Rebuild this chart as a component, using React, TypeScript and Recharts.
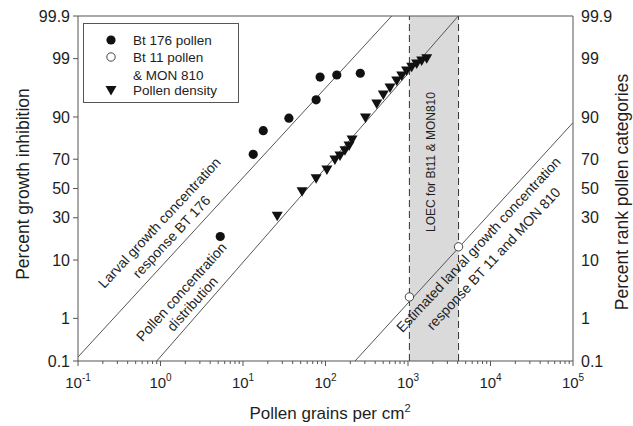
import React from "react";
import {
  ComposedChart,
  XAxis,
  YAxis,
  Scatter,
  ReferenceLine,
  ReferenceArea,
  Legend,
} from "recharts";

// x axis: log decades and minor steps
const X_DECADES = [0.1, 1, 10, 100, 1000, 10000, 100000];
const X_EXPONENTS = ["-1", "0", "1", "2", "3", "4", "5"];
const X_MINOR_STEPS = [2, 3, 4, 5, 6, 7, 8, 9];

// y axis: probability (probit) scale, in percent
const Y_TICKS = [0.1, 1, 10, 30, 50, 70, 90, 99, 99.9];
const Y_TICK_LABELS = ["0.1", "1", "10", "30", "50", "70", "90", "99", "99.9"];

// Bt 176 pollen (filled circles)
const BT176_X = [5.3, 13.3, 17.6, 36, 77, 86, 137, 264];
const BT176_Y = [19.5, 73, 85, 89.6, 94.4, 97.7, 97.9, 98.05];

// Bt 11 pollen & MON 810 (open circles)
const BT11_X = [1040, 4100];
const BT11_Y = [2.6, 14.8];

// Pollen density (down triangles)
const DENSITY_X = [
  26, 52, 77, 104, 130, 150, 172, 193, 210, 305, 418, 502, 605, 730, 839, 960,
  1109, 1274, 1465, 1686,
];
const DENSITY_Y = [
  31, 47.7, 57, 63, 69.5, 72, 75, 77.7, 80.8, 89.7, 93.5, 95.3, 96.4, 97.3,
  97.8, 98.24, 98.5, 98.72, 98.88, 98.99,
];

// fitted lines, [x, percent] end points
const LINE_BT176 = [
  [0.1, 0.127],
  [634, 99.9],
];
const LINE_POLLEN = [
  [0.9, 0.1],
  [4070, 99.9],
];
const LINE_BT11 = [
  [228, 0.1],
  [100000, 88.1],
];

// LOEC band
const LOEC_RANGE = [1040, 4100];

const FONT = "'Liberation Sans', Arial, sans-serif";
const AXIS = "#555";
const INK = "#1e1e1e";

// inverse normal cdf (Acklam), percent -> z
function probit(pct: number): number {
  const p = pct / 100;
  const a = [-39.69683028665376, 220.9460984245205, -275.9285104469687, 138.357751867269, -30.66479806614716, 2.506628277459239];
  const b = [-54.47609879822406, 161.5858368580409, -155.6989798598866, 66.80131188771972, -13.28068155288572];
  const c = [-0.007784894002430293, -0.3223964580411365, -2.400758277161838, -2.549732539343734, 4.374664141464968, 2.938163982698783];
  const d = [0.007784695709041462, 0.3224671290700398, 2.445134137142996, 3.754408661907416];
  const pl = 0.02425;
  if (p < pl) {
    const q = Math.sqrt(-2 * Math.log(p));
    return (((((c[0] * q + c[1]) * q + c[2]) * q + c[3]) * q + c[4]) * q + c[5]) /
      ((((d[0] * q + d[1]) * q + d[2]) * q + d[3]) * q + 1);
  }
  if (p > 1 - pl) {
    const q = Math.sqrt(-2 * Math.log(1 - p));
    return -(((((c[0] * q + c[1]) * q + c[2]) * q + c[3]) * q + c[4]) * q + c[5]) /
      ((((d[0] * q + d[1]) * q + d[2]) * q + d[3]) * q + 1);
  }
  const q = p - 0.5;
  const r = q * q;
  return ((((((a[0] * r + a[1]) * r + a[2]) * r + a[3]) * r + a[4]) * r + a[5]) * q) /
    (((((b[0] * r + b[1]) * r + b[2]) * r + b[3]) * r + b[4]) * r + 1);
}

const Y_MIN = probit(Y_TICKS[0]);
const Y_MAX = probit(Y_TICKS[Y_TICKS.length - 1]);
const yTickValues = Y_TICKS.map(probit);

const toPoints = (xs: number[], ys: number[]) =>
  xs.map((x, i) => ({ x, y: probit(ys[i]) }));
const toSegment = (pts: number[][]) =>
  pts.map(([x, p]) => ({ x, y: probit(p) }));

const bt176 = toPoints(BT176_X, BT176_Y);
const bt11 = toPoints(BT11_X, BT11_Y);
const density = toPoints(DENSITY_X, DENSITY_Y);

const xTicks: number[] = [];
X_DECADES.forEach((d, i) => {
  xTicks.push(d);
  if (i < X_DECADES.length - 1) X_MINOR_STEPS.forEach((m) => xTicks.push(d * m));
});

function LogTick(props: any) {
  const { x, y, payload } = props;
  const idx = X_DECADES.findIndex(
    (d) => Math.abs(Math.log10(d) - Math.log10(payload.value)) < 1e-6
  );
  const major = idx >= 0;
  return (
    <g>
      <line x1={x} x2={x} y1={y} y2={y + (major ? 5 : 3)} stroke={AXIS} />
      {major && (
        <text x={x} y={y + 27} textAnchor="middle" fontSize={15} fill={INK} fontFamily={FONT}>
          <tspan>10</tspan>
          <tspan dy={-7} fontSize={10}>{X_EXPONENTS[idx]}</tspan>
        </text>
      )}
    </g>
  );
}

const dotShape = (props: any) => (
  <circle cx={props.cx} cy={props.cy} r={4.6} fill="#111" />
);
const openShape = (props: any) => (
  <circle cx={props.cx} cy={props.cy} r={4.2} fill="#fff" stroke="#444" strokeWidth={1} />
);
const triShape = (props: any) => {
  const { cx, cy } = props;
  return (
    <path d={`M${cx - 5.5},${cy - 4.5}L${cx + 5.5},${cy - 4.5}L${cx},${cy + 5}Z`} fill="#111" />
  );
};

function LegendBox() {
  const t = { fontSize: 13.5, fill: INK, fontFamily: FONT };
  return (
    <svg width={156} height={80}>
      <rect x={0.5} y={0.5} width={155} height={79} fill="#fff" stroke={AXIS} />
      <circle cx={28} cy={17} r={4.6} fill="#111" />
      <text x={50} y={22} {...t}>Bt 176 pollen</text>
      <circle cx={28} cy={34} r={4.2} fill="#fff" stroke="#444" />
      <text x={50} y={39} {...t}>Bt 11 pollen</text>
      <text x={50} y={57} {...t}>&amp; MON 810</text>
      <path d="M22.5,63L33.5,63L28,72.5Z" fill="#111" />
      <text x={50} y={72} {...t}>Pollen density</text>
    </svg>
  );
}

function Note({ x, y, angle, size = 14, children }: any) {
  return (
    <text
      x={x}
      y={y}
      transform={`rotate(${angle} ${x} ${y})`}
      textAnchor="middle"
      fontSize={size}
      fill={INK}
      fontFamily={FONT}
    >
      {children}
    </text>
  );
}

export default function App() {
  const yTick = { fontSize: 16, fill: INK, fontFamily: FONT };
  return (
    <div style={{ position: "absolute", left: 0, top: 0, width: 633, height: 426, background: "#fff" }}>
      <ComposedChart width={633} height={426} margin={{ top: 16, right: 0, bottom: 0, left: 0 }}>
        <XAxis
          dataKey="x"
          type="number"
          scale="log"
          domain={[X_DECADES[0], X_DECADES[X_DECADES.length - 1]]}
          ticks={xTicks}
          interval={0}
          tick={<LogTick />}
          tickLine={false}
          tickSize={0}
          tickMargin={0}
          height={65}
          axisLine={{ stroke: AXIS }}
          allowDataOverflow
        />
        <YAxis
          yAxisId="left"
          dataKey="y"
          type="number"
          domain={[Y_MIN, Y_MAX]}
          ticks={yTickValues}
          interval={0}
          tickFormatter={(_v: number, i: number) => Y_TICK_LABELS[i]}
          width={78}
          tickSize={5}
          tickMargin={3}
          tick={yTick}
          tickLine={{ stroke: AXIS }}
          axisLine={{ stroke: AXIS }}
          allowDataOverflow
        />
        <YAxis
          yAxisId="right"
          orientation="right"
          type="number"
          domain={[Y_MIN, Y_MAX]}
          ticks={yTickValues}
          interval={0}
          tickFormatter={(_v: number, i: number) => Y_TICK_LABELS[i]}
          width={60}
          tickSize={0}
          tickMargin={8}
          tick={yTick}
          tickLine={false}
          axisLine={{ stroke: AXIS }}
          allowDataOverflow
        />
        <ReferenceArea
          yAxisId="left"
          x1={LOEC_RANGE[0]}
          x2={LOEC_RANGE[1]}
          y1={Y_MIN}
          y2={Y_MAX}
          fill="#dadada"
          fillOpacity={1}
          stroke="none"
        />
        <ReferenceLine yAxisId="left" x={LOEC_RANGE[0]} stroke="#333" strokeDasharray="7 4" />
        <ReferenceLine yAxisId="left" x={LOEC_RANGE[1]} stroke="#333" strokeDasharray="7 4" />
        <ReferenceLine yAxisId="left" y={Y_MAX} stroke={AXIS} />
        <ReferenceLine yAxisId="left" segment={toSegment(LINE_BT176)} stroke={AXIS} ifOverflow="hidden" />
        <ReferenceLine yAxisId="left" segment={toSegment(LINE_POLLEN)} stroke={AXIS} ifOverflow="hidden" />
        <ReferenceLine yAxisId="left" segment={toSegment(LINE_BT11)} stroke={AXIS} ifOverflow="hidden" />
        <Scatter yAxisId="left" name="Bt 176 pollen" data={bt176} dataKey="y" shape={dotShape} isAnimationActive={false} />
        <Scatter yAxisId="left" name="Bt 11 pollen & MON 810" data={bt11} dataKey="y" shape={openShape} isAnimationActive={false} />
        <Scatter yAxisId="left" name="Pollen density" data={density} dataKey="y" shape={triShape} isAnimationActive={false} />
        <Legend
          layout="vertical"
          align="center"
          verticalAlign="middle"
          content={<LegendBox />}
          wrapperStyle={{ left: 83, top: 23, width: 156, height: 80 }}
        />
        <text x={29} y={184} transform="rotate(-90 29 184)" textAnchor="middle" fontSize={17.5} fill={INK} fontFamily={FONT}>
          Percent growth inhibition
        </text>
        <text x={628} y={192} transform="rotate(-90 628 192)" textAnchor="middle" fontSize={17.5} fill={INK} fontFamily={FONT}>
          Percent rank pollen categories
        </text>
        <text x={330} y={419} textAnchor="middle" fontSize={17} fill={INK} fontFamily={FONT}>
          Pollen grains per cm<tspan dy={-7} fontSize={11}>2</tspan>
        </text>
      </ComposedChart>
      {/* annotations sit above the shaded LOEC band */}
      <svg
        width={633}
        height={426}
        style={{ position: "absolute", left: 0, top: 0, pointerEvents: "none" }}
      >
        <Note x={163} y={226} angle={-47}>Larval growth concentration</Note>
        <Note x={175} y={240} angle={-47}>response BT 176</Note>
        <Note x={185} y={295} angle={-48}>Pollen concentration</Note>
        <Note x={196} y={307} angle={-48}>distribution</Note>
        <Note x={482} y={248} angle={-47}>Estimated larval growth concentration</Note>
        <Note x={497} y={262} angle={-47}>response BT 11 and MON 810</Note>
        <Note x={435} y={162} angle={-90} size={12}>LOEC for Bt11 &amp; MON810</Note>
      </svg>
    </div>
  );
}
